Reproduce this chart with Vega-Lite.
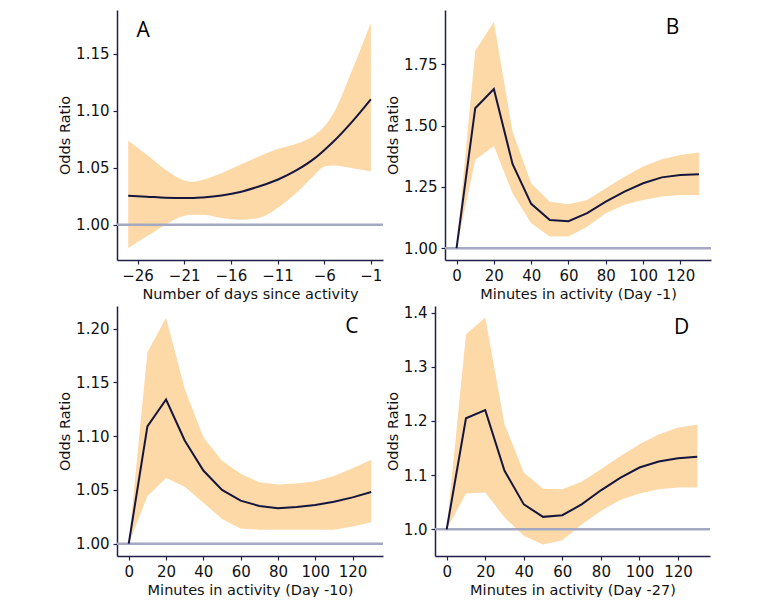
{
  "$schema": "https://vega.github.io/schema/vega-lite/v6.json",
  "padding": {"left": 57, "top": 10, "right": 0, "bottom": 0},
  "background": "white",
  "config": {
    "font": "DejaVu Sans",
    "view": {"stroke": null},
    "axis": {
      "grid": false,
      "domainColor": "#1f1f48",
      "domainWidth": 1.5,
      "tickColor": "#1f1f48",
      "tickWidth": 1.2,
      "tickSize": 4,
      "labelFontSize": 15,
      "labelColor": "#111111",
      "labelPadding": 4,
      "labelOverlap": false,
      "labelFlush": false,
      "titleFontSize": 14.5,
      "titleFontWeight": "normal",
      "titleColor": "#111111",
      "titlePadding": 4
    },
    "axisY": {"labelPadding": 4, "titlePadding": 3}
  },
  "datasets": {
    "a": [
      {"x": -27, "or": 1.0254, "lo": 0.9795, "hi": 1.0737},
      {"x": -25, "or": 1.0246, "lo": 0.9898, "hi": 1.0614},
      {"x": -23, "or": 1.0237, "lo": 1.0000, "hi": 1.0482},
      {"x": -21, "or": 1.0234, "lo": 1.0079, "hi": 1.0389},
      {"x": -20, "or": 1.0235, "lo": 1.0088, "hi": 1.0377},
      {"x": -19, "or": 1.0240, "lo": 1.0088, "hi": 1.0395},
      {"x": -17, "or": 1.0257, "lo": 1.0059, "hi": 1.0453},
      {"x": -15, "or": 1.0287, "lo": 1.0044, "hi": 1.0526},
      {"x": -13, "or": 1.0336, "lo": 1.0059, "hi": 1.0599},
      {"x": -11, "or": 1.0395, "lo": 1.0146, "hi": 1.0664},
      {"x": -9, "or": 1.0477, "lo": 1.0278, "hi": 1.0711},
      {"x": -7, "or": 1.0585, "lo": 1.0439, "hi": 1.0789},
      {"x": -6, "or": 1.0655, "lo": 1.0511, "hi": 1.0862},
      {"x": -5, "or": 1.0731, "lo": 1.0520, "hi": 1.0980},
      {"x": -3, "or": 1.0906, "lo": 1.0497, "hi": 1.1360},
      {"x": -1, "or": 1.1102, "lo": 1.0468, "hi": 1.1775}
    ],
    "b": [
      {"x": 0, "or": 1.000, "lo": 1.000, "hi": 1.000},
      {"x": 10, "or": 1.571, "lo": 1.360, "hi": 1.804},
      {"x": 20, "or": 1.649, "lo": 1.417, "hi": 1.924},
      {"x": 30, "or": 1.344, "lo": 1.224, "hi": 1.476},
      {"x": 40, "or": 1.181, "lo": 1.102, "hi": 1.265},
      {"x": 50, "or": 1.115, "lo": 1.048, "hi": 1.190},
      {"x": 60, "or": 1.110, "lo": 1.048, "hi": 1.179},
      {"x": 70, "or": 1.143, "lo": 1.088, "hi": 1.197},
      {"x": 80, "or": 1.190, "lo": 1.143, "hi": 1.245},
      {"x": 90, "or": 1.231, "lo": 1.177, "hi": 1.292},
      {"x": 100, "or": 1.265, "lo": 1.197, "hi": 1.333},
      {"x": 110, "or": 1.289, "lo": 1.211, "hi": 1.363},
      {"x": 120, "or": 1.299, "lo": 1.217, "hi": 1.380},
      {"x": 130, "or": 1.302, "lo": 1.217, "hi": 1.390}
    ],
    "c": [
      {"x": 0, "or": 1.000, "lo": 1.000, "hi": 1.000},
      {"x": 10, "or": 1.109, "lo": 1.044, "hi": 1.178},
      {"x": 20, "or": 1.134, "lo": 1.061, "hi": 1.210},
      {"x": 30, "or": 1.096, "lo": 1.053, "hi": 1.144},
      {"x": 40, "or": 1.068, "lo": 1.038, "hi": 1.099},
      {"x": 50, "or": 1.050, "lo": 1.023, "hi": 1.077},
      {"x": 60, "or": 1.040, "lo": 1.014, "hi": 1.065},
      {"x": 70, "or": 1.035, "lo": 1.013, "hi": 1.057},
      {"x": 80, "or": 1.033, "lo": 1.013, "hi": 1.055},
      {"x": 90, "or": 1.034, "lo": 1.013, "hi": 1.056},
      {"x": 100, "or": 1.036, "lo": 1.013, "hi": 1.058},
      {"x": 110, "or": 1.039, "lo": 1.013, "hi": 1.063},
      {"x": 120, "or": 1.043, "lo": 1.016, "hi": 1.070},
      {"x": 130, "or": 1.048, "lo": 1.020, "hi": 1.078}
    ],
    "d": [
      {"x": 0, "or": 1.000, "lo": 1.000, "hi": 1.000},
      {"x": 10, "or": 1.205, "lo": 1.066, "hi": 1.360},
      {"x": 20, "or": 1.220, "lo": 1.068, "hi": 1.391},
      {"x": 30, "or": 1.108, "lo": 1.022, "hi": 1.194},
      {"x": 40, "or": 1.046, "lo": 0.988, "hi": 1.105},
      {"x": 50, "or": 1.023, "lo": 0.972, "hi": 1.075},
      {"x": 60, "or": 1.026, "lo": 0.980, "hi": 1.074},
      {"x": 70, "or": 1.046, "lo": 1.009, "hi": 1.088},
      {"x": 80, "or": 1.072, "lo": 1.034, "hi": 1.111},
      {"x": 90, "or": 1.095, "lo": 1.054, "hi": 1.135},
      {"x": 100, "or": 1.114, "lo": 1.066, "hi": 1.157},
      {"x": 110, "or": 1.125, "lo": 1.074, "hi": 1.175},
      {"x": 120, "or": 1.131, "lo": 1.077, "hi": 1.188},
      {"x": 130, "or": 1.134, "lo": 1.077, "hi": 1.193}
    ]
  },
  "spacing": 4,
  "vconcat": [
    {
      "spacing": 0,
      "hconcat": [
        {
          "width": 266, "height": 250,
          "layer": [
            {
              "data": {"name": "a"},
              "mark": {"type": "area", "color": "#FDD9A8", "interpolate": "monotone"},
              "encoding": {
                "x": {"field": "x", "type": "quantitative", "scale": {"domain": [-28.2, 0.3], "nice": false, "zero": false}, "axis": {"values": [-26, -21, -16, -11, -6, -1], "title": "Number of days since activity"}},
                "y": {"field": "lo", "type": "quantitative", "scale": {"domain": [0.969, 1.1886], "nice": false, "zero": false}, "axis": {"values": [1.0, 1.05, 1.1, 1.15], "format": ".2f", "title": "Odds Ratio"}},
                "y2": {"field": "hi"}
              }
            },
            {
              "data": {"values": [{"ref": 1}]},
              "mark": {"type": "rule", "color": "#A5A8C0", "strokeWidth": 2.5},
              "encoding": {"y": {"field": "ref", "type": "quantitative"}}
            },
            {
              "data": {"name": "a"},
              "mark": {"type": "line", "color": "#15153d", "strokeWidth": 2, "interpolate": "monotone"},
              "encoding": {
                "x": {"field": "x", "type": "quantitative"},
                "y": {"field": "or", "type": "quantitative"}
              }
            },
            {
              "data": {"values": [{"x": -25.4, "y": 1.17, "t": "A"}]},
              "mark": {"type": "text", "font": "Open Sans", "fontSize": 21, "color": "#000000", "baseline": "middle", "align": "center"},
              "encoding": {
                "x": {"field": "x", "type": "quantitative"},
                "y": {"field": "y", "type": "quantitative"},
                "text": {"field": "t"}
              }
            }
          ]
        },
        {
          "width": 266, "height": 250,
          "layer": [
            {
              "data": {"name": "b"},
              "mark": {"type": "area", "color": "#FDD9A8"},
              "encoding": {
                "x": {"field": "x", "type": "quantitative", "scale": {"domain": [-6.2, 136.4], "nice": false, "zero": false}, "axis": {"values": [0, 20, 40, 60, 80, 100, 120], "title": "Minutes in activity (Day -1)"}},
                "y": {"field": "lo", "type": "quantitative", "scale": {"domain": [0.952, 1.9715], "nice": false, "zero": false}, "axis": {"values": [1.0, 1.25, 1.5, 1.75], "format": ".2f", "title": "Odds Ratio"}},
                "y2": {"field": "hi"}
              }
            },
            {
              "data": {"values": [{"ref": 1}]},
              "mark": {"type": "rule", "color": "#A5A8C0", "strokeWidth": 2.5},
              "encoding": {"y": {"field": "ref", "type": "quantitative"}}
            },
            {
              "data": {"name": "b"},
              "mark": {"type": "line", "color": "#15153d", "strokeWidth": 2},
              "encoding": {
                "x": {"field": "x", "type": "quantitative"},
                "y": {"field": "or", "type": "quantitative"}
              }
            },
            {
              "data": {"values": [{"x": 115.8, "y": 1.9, "t": "B"}]},
              "mark": {"type": "text", "font": "Open Sans", "fontSize": 21, "color": "#000000", "baseline": "middle", "align": "center"},
              "encoding": {
                "x": {"field": "x", "type": "quantitative"},
                "y": {"field": "y", "type": "quantitative"},
                "text": {"field": "t"}
              }
            }
          ]
        }
      ]
    },
    {
      "spacing": 0,
      "hconcat": [
        {
          "width": 266, "height": 250,
          "layer": [
            {
              "data": {"name": "c"},
              "mark": {"type": "area", "color": "#FDD9A8"},
              "encoding": {
                "x": {"field": "x", "type": "quantitative", "scale": {"domain": [-6.3, 136.3], "nice": false, "zero": false}, "axis": {"values": [0, 20, 40, 60, 80, 100, 120], "title": "Minutes in activity (Day -10)"}},
                "y": {"field": "lo", "type": "quantitative", "scale": {"domain": [0.9885, 1.221], "nice": false, "zero": false}, "axis": {"values": [1.0, 1.05, 1.1, 1.15, 1.2], "format": ".2f", "title": "Odds Ratio"}},
                "y2": {"field": "hi"}
              }
            },
            {
              "data": {"values": [{"ref": 1}]},
              "mark": {"type": "rule", "color": "#A5A8C0", "strokeWidth": 2.5},
              "encoding": {"y": {"field": "ref", "type": "quantitative"}}
            },
            {
              "data": {"name": "c"},
              "mark": {"type": "line", "color": "#15153d", "strokeWidth": 2},
              "encoding": {
                "x": {"field": "x", "type": "quantitative"},
                "y": {"field": "or", "type": "quantitative"}
              }
            },
            {
              "data": {"values": [{"x": 119.6, "y": 1.2019, "t": "C"}]},
              "mark": {"type": "text", "font": "Open Sans", "fontSize": 21, "color": "#000000", "baseline": "middle", "align": "center"},
              "encoding": {
                "x": {"field": "x", "type": "quantitative"},
                "y": {"field": "y", "type": "quantitative"},
                "text": {"field": "t"}
              }
            }
          ]
        },
        {
          "width": 275, "height": 250,
          "layer": [
            {
              "data": {"name": "d"},
              "mark": {"type": "area", "color": "#FDD9A8"},
              "encoding": {
                "x": {"field": "x", "type": "quantitative", "scale": {"domain": [-6.07, 136.6], "nice": false, "zero": false}, "axis": {"values": [0, 20, 40, 60, 80, 100, 120], "title": "Minutes in activity (Day -27)"}},
                "y": {"field": "lo", "type": "quantitative", "scale": {"domain": [0.9508, 1.412], "nice": false, "zero": false}, "axis": {"values": [1.0, 1.1, 1.2, 1.3, 1.4], "format": ".1f", "title": "Odds Ratio"}},
                "y2": {"field": "hi"}
              }
            },
            {
              "data": {"values": [{"ref": 1}]},
              "mark": {"type": "rule", "color": "#A5A8C0", "strokeWidth": 2.5},
              "encoding": {"y": {"field": "ref", "type": "quantitative"}}
            },
            {
              "data": {"name": "d"},
              "mark": {"type": "line", "color": "#15153d", "strokeWidth": 2},
              "encoding": {
                "x": {"field": "x", "type": "quantitative"},
                "y": {"field": "or", "type": "quantitative"}
              }
            },
            {
              "data": {"values": [{"x": 121.9, "y": 1.372, "t": "D"}]},
              "mark": {"type": "text", "font": "Open Sans", "fontSize": 21, "color": "#000000", "baseline": "middle", "align": "center"},
              "encoding": {
                "x": {"field": "x", "type": "quantitative"},
                "y": {"field": "y", "type": "quantitative"},
                "text": {"field": "t"}
              }
            }
          ]
        }
      ]
    }
  ]
}
